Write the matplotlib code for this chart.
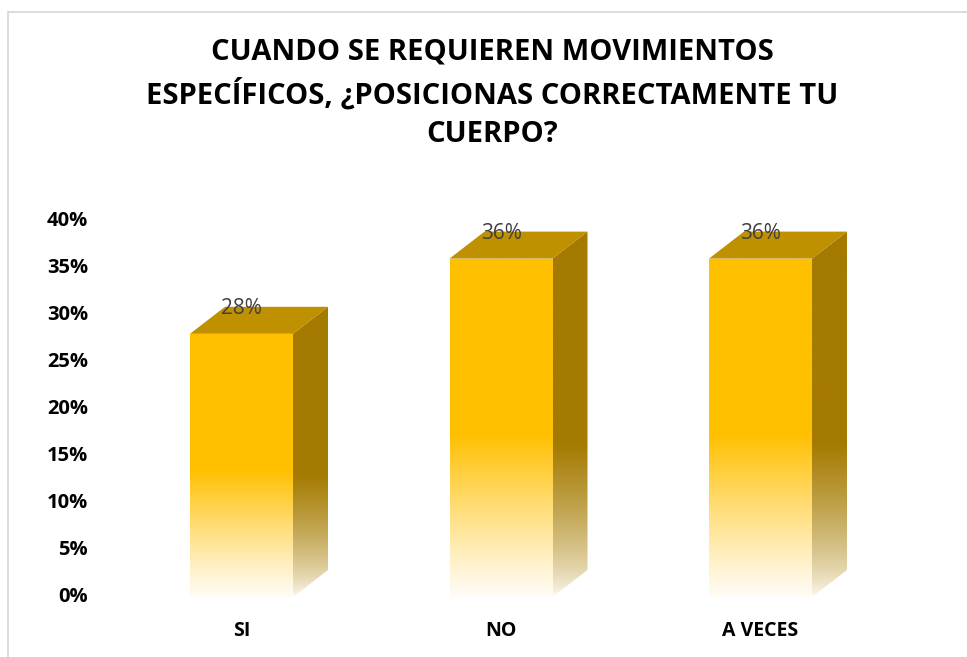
import numpy as np
import matplotlib.pyplot as plt
from matplotlib.patches import Polygon, Rectangle
from matplotlib.colors import to_rgb
from matplotlib.transforms import blended_transform_factory

categories = ["SI", "NO", "A VECES"]
values = [28, 36, 36]
labels = ["28%", "36%", "36%"]
yticks = [0, 5, 10, 15, 20, 25, 30, 35, 40]
title_lines = ["CUANDO SE REQUIEREN MOVIMIENTOS",
               "ESPECÍFICOS, ¿POSICIONAS CORRECTAMENTE TU",
               "CUERPO?"]

W, H = 967, 657
fig = plt.figure(figsize=(W / 100, H / 100), dpi=100)

# pixel layout
ax_l, ax_r = 100, 950
y0_px, y40_px = 597, 221
unit = 259.5  # px between categories
c0 = 241.5    # px of first bar centre
ax = fig.add_axes([ax_l / W, (H - y0_px) / H, (ax_r - ax_l) / W, (y0_px - y40_px) / H])
ax.set_xlim(-(c0 - ax_l) / unit, (ax_r - c0) / unit)
ax.set_ylim(0, 40)
ax.set_autoscale_on(False)
for s in ax.spines.values():
    s.set_visible(False)

bw = 103 / unit
dx = 35 / unit
dy = 27 / ((y0_px - y40_px) / 40)

front = np.array(to_rgb("#FFC000"))
side = np.array(to_rgb("#A47A00"))
top = "#BF9000"
white = np.array(to_rgb("#FFFCF6"))


def ramp(c, n=256, frac=0.48, p=1.1):
    t = np.linspace(0, 1, n)
    k = np.clip(t / frac, 0, 1) ** p
    rgb = white[None, :] * (1 - k[:, None]) + c[None, :] * k[:, None]
    return rgb[:, None, :]


for i, v in enumerate(values):
    x0 = i - bw / 2
    x1 = i + bw / 2
    # front face
    im = ax.imshow(ramp(front), extent=[x0, x1, 0, v], origin="lower",
                   aspect="auto", zorder=2, interpolation="bilinear")
    rect = Rectangle((x0, 0), bw, v, transform=ax.transData, fc="none", ec="none")
    ax.add_patch(rect)
    im.set_clip_path(rect)
    # side face
    poly = Polygon([(x1, 0), (x1 + dx, dy), (x1 + dx, v + dy), (x1, v)],
                   closed=True, fc="none", ec="none")
    ax.add_patch(poly)
    im2 = ax.imshow(ramp(side, frac=0.42, p=0.7), extent=[x1, x1 + dx, 0, v + dy],
                    origin="lower", aspect="auto", zorder=2, interpolation="bilinear")
    im2.set_clip_path(poly)
    # top face
    ax.add_patch(Polygon([(x0, v), (x1, v), (x1 + dx, v + dy), (x0 + dx, v + dy)],
                         closed=True, fc=top, ec="none", zorder=3))
    ax.text(i, v + dy - 0.2, labels[i], ha="center", va="center", fontsize=15,
            color="#404040", family="Open Sans", zorder=4, clip_on=False)

# y labels placed explicitly, right edge at x = 88 px
ax.set_yticks([])
trans = blended_transform_factory(fig.transFigure, ax.transData)
for t in yticks:
    ax.text(88 / W, t, f"{t}%", transform=trans, ha="right", va="center",
            fontsize=14.5, fontweight="bold", family="Open Sans", clip_on=False)

ax.set_xticks(range(len(categories)))
ax.set_xticklabels(categories, fontsize=14, fontweight="bold", family="Open Sans")
ax.tick_params(axis="x", length=0, pad=17)

for line, ypx in zip(title_lines, [52, 94, 135]):
    fig.text(492 / W, 1 - ypx / H, line, ha="center", va="center", fontsize=21,
             fontweight="bold", family="Open Sans")

fig.patches.append(Rectangle((8 / W, -0.1), 2, (H - 12) / H + 0.1,
                             transform=fig.transFigure, fill=False,
                             ec="#D9D9D9", lw=1.3))

fig.savefig("out.png", dpi=100)
